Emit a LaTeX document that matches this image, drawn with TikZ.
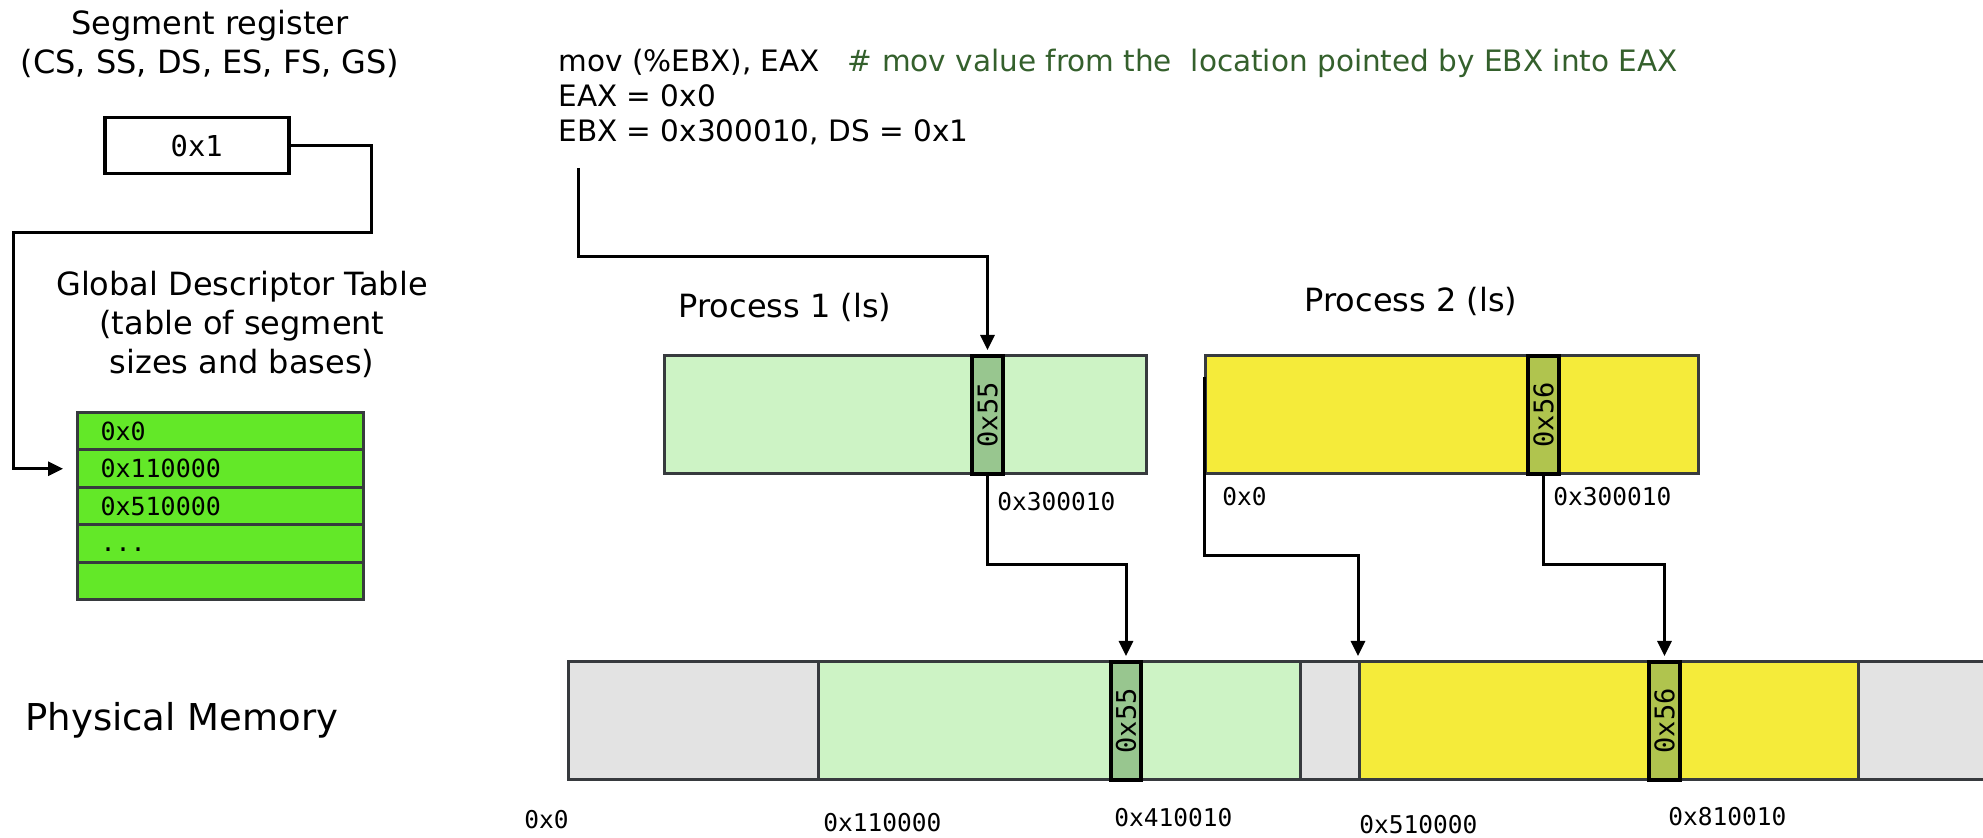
\documentclass[tikz,border=0pt]{standalone}
\usepackage{graphicx}
\usepackage{fontspec}
\setmainfont{DejaVu Sans}
\newfontfamily\monof{DejaVu Sans Mono}
\usetikzlibrary{arrows.meta}
\definecolor{gdtgreen}{RGB}{99,232,40}
\definecolor{lgreen}{RGB}{205,243,197}
\definecolor{dgreen}{RGB}{152,198,143}
\definecolor{pyellow}{RGB}{245,235,58}
\definecolor{ycell}{RGB}{176,196,78}
\definecolor{memgray}{RGB}{227,227,227}
\definecolor{edge}{RGB}{55,58,62}
\definecolor{cmt}{RGB}{52,96,44}
\begin{document}
\begin{tikzpicture}[x=0.5pt,y=-0.5pt,
  seg/.style={draw=edge, line width=1.5pt, inner sep=0pt, anchor=north west, minimum height=59pt},
  cellbox/.style={draw=black, line width=2pt, inner sep=0pt, minimum width=15.5pt, minimum height=59pt, anchor=north west, font=\monof\fontsize{13.5}{15}\selectfont},
  hexlbl/.style={font=\monof\fontsize{12.25}{15}\selectfont, inner sep=0pt},
  title/.style={font=\fontsize{16}{19.5}\selectfont, align=center, inner sep=0pt},
  codeline/.style={font=\fontsize{14.75}{17.5}\selectfont, inner sep=0pt, anchor=base west},
  conn/.style={line width=1.5pt, -{Triangle[length=7.5pt,width=7pt]}},
  gdtrow/.style={draw=edge, line width=1.5pt, fill=gdtgreen, anchor=north west, minimum width=143pt, minimum height=18.75pt, text width=120pt, inner xsep=11.5pt, inner ysep=0pt, align=left, font=\monof\fontsize{12.5}{15}\selectfont},
]
\useasboundingbox (0,0) rectangle (1983,838);

% segment register
\node[title] (segt) at (210,44) {Segment register\\(CS, SS, DS, ES, FS, GS)};
\node[draw=black, line width=1.75pt, minimum width=92pt, minimum height=28pt, inner sep=0pt, anchor=north west, font=\monof\fontsize{14.4}{17}\selectfont] (reg) at (103,116) {0x1};

% GDT
\node[title] (gdtt) at (242,324) {Global Descriptor Table\\(table of segment\\sizes and bases)};
\node[gdtrow] (g1) at (76,411) {0x0};
\node[gdtrow] (g2) at (76,448.5) {0x110000};
\node[gdtrow] (g3) at (76,486) {0x510000};
\node[gdtrow] (g4) at (76,523.5) {\smash{\raisebox{-4pt}{...}}};
\node[gdtrow] (g5) at (76,561) {};
\draw[conn, shorten >=6.5pt] (reg.east) -- ++(81,0) |- (13,233) |- (g2.west);

% code
\node[codeline] (code1) at (558,72) {mov (\%EBX), EAX\hspace{14pt}{\color{cmt}\# mov value from the\ \ location pointed by EBX into EAX}};
\node[codeline] (code2) at (558,107) {EAX = 0x0};
\node[codeline] (code3) at (558,142) {EBX = 0x300010, DS = 0x1};
\coordinate (cstart) at (578,168);

% process 1
\node[title] (p1t) at (785,307) {Process 1 (ls)};
\node[seg, fill=lgreen, minimum width=241pt] (p1) at (663,354) {};
\node[cellbox, fill=dgreen] (p1c) at (970,354) {\rotatebox{90}{0x55}};
\node[hexlbl, anchor=west] (p1l) at (997,502) {0x300010};

% process 2
\node[title] (p2t) at (1411,301) {Process 2 (ls)};
\node[seg, fill=pyellow, minimum width=246.5pt] (p2) at (1204,354) {};
\node[cellbox, fill=ycell] (p2c) at (1526,354) {\rotatebox{90}{0x56}};
\node[hexlbl, anchor=west] (p2l0) at (1222,497) {0x0};
\node[hexlbl, anchor=west] (p2l) at (1553,497) {0x300010};
\coordinate (p2s) at ([yshift=-11.5pt]p2.north west);

% physical memory
\node[anchor=west, inner sep=0pt, font=\fontsize{18.5}{21}\selectfont] (pm) at (25,720) {Physical Memory};
\node[seg, fill=memgray, minimum width=125pt] (mg1) at (567,660) {};
\node[seg, fill=lgreen, minimum width=241pt] (mg) at (817,660) {};
\node[seg, fill=memgray, minimum width=29.5pt] (mg2) at (1299,660) {};
\node[seg, fill=pyellow, minimum width=249.5pt] (memy) at (1358,660) {};
\node[seg, fill=memgray, minimum width=80pt] (mg3) at (1857,660) {};
\node[cellbox, fill=dgreen, minimum width=15pt] (m55) at (1109,660) {\rotatebox{90}{0x55}};
\node[cellbox, fill=ycell] (m56) at (1647,660) {\rotatebox{90}{0x56}};

\node[hexlbl, anchor=east] (a0) at (569,820) {0x0};
\node[hexlbl, anchor=west] (a1) at (823,823) {0x110000};
\node[hexlbl, anchor=west] (a2) at (1114,818) {0x410010};
\node[hexlbl, anchor=west] (a3) at (1359,825) {0x510000};
\node[hexlbl, anchor=west] (a4) at (1668,817) {0x810010};

% connectors
\draw[conn, shorten >=2pt] (cstart) -- (578,257) -| (p1c.north);
\draw[conn, shorten >=2pt] (p1c.south) -- ++(0,89) -| (m55.north);
\draw[conn, shorten >=2pt] (p2s) -- ++(0,179) -| (memy.north west);
\draw[conn, shorten >=2pt] (p2c.south) -- ++(0,89) -| (m56.north);
\end{tikzpicture}
\end{document}
